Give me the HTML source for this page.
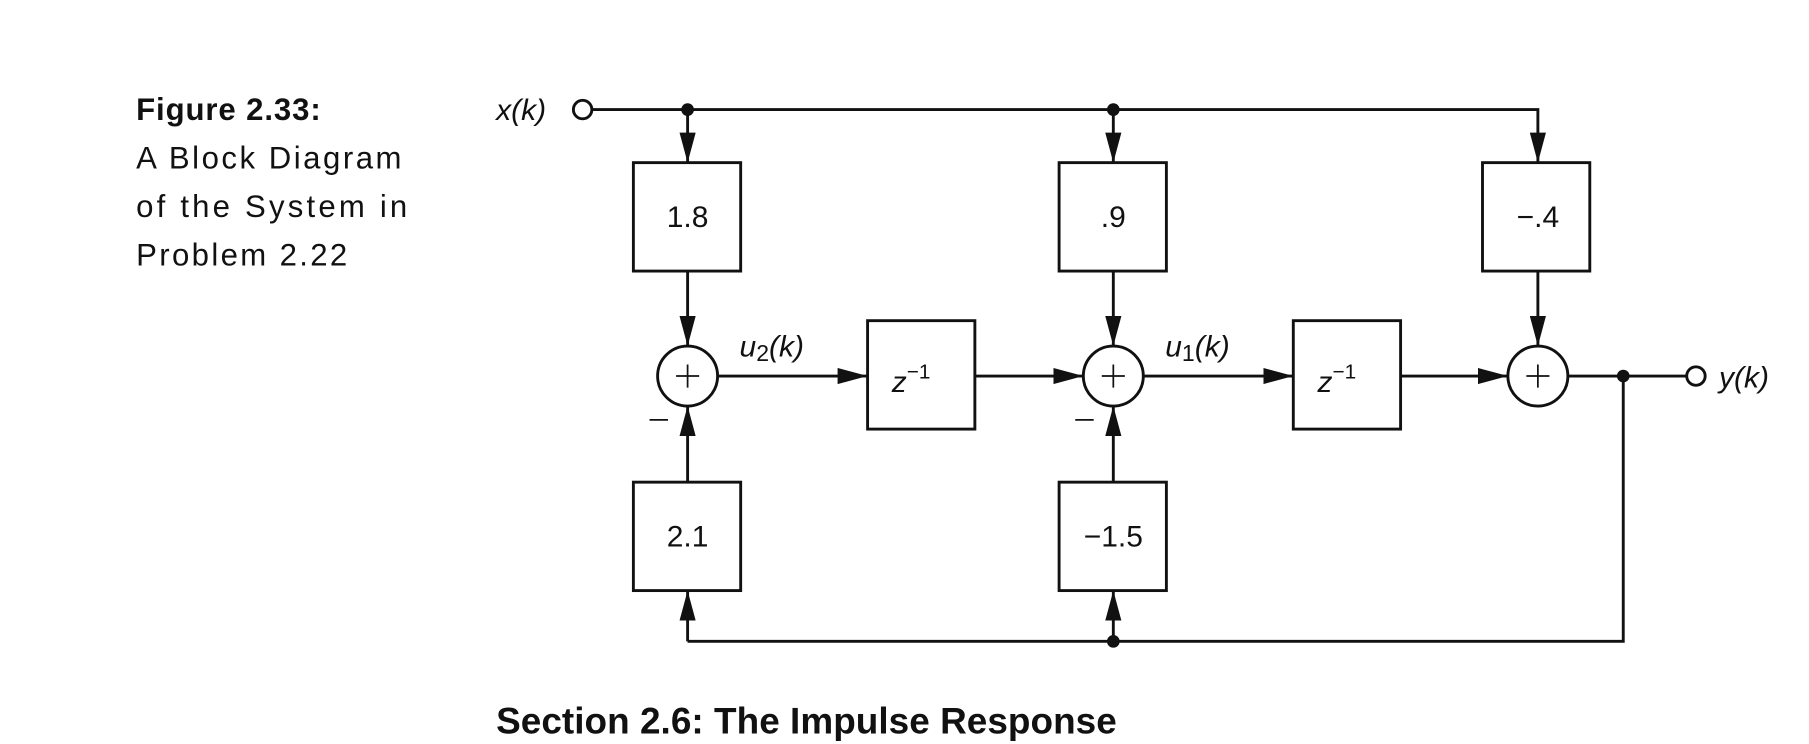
<!DOCTYPE html>
<html><head><style>html,body{margin:0;padding:0;background:#fff;}svg{display:block}</style></head>
<body>
<svg width="1809" height="744" viewBox="0 0 1568 645" preserveAspectRatio="none" xmlns="http://www.w3.org/2000/svg">
<defs>
<marker id="a" markerWidth="26" markerHeight="14" refX="26" refY="7" orient="auto" markerUnits="userSpaceOnUse">
<path d="M0,0 L26,7 L0,14 z" fill="#111"/>
</marker>
</defs>
<g font-family="Liberation Sans, sans-serif" fill="#111">
<text x="118" y="104" font-size="27" font-weight="bold" textLength="160">Figure 2.33:</text>
<text x="118" y="146" font-size="27" textLength="230">A Block Diagram</text>
<text x="118" y="188" font-size="27" textLength="235">of the System in</text>
<text x="118" y="230" font-size="27" textLength="183">Problem 2.22</text>
<text x="430" y="636" font-size="32" font-weight="bold" textLength="538">Section 2.6: The Impulse Response</text>
</g>
<g stroke="#111" stroke-width="2.5" fill="none">
<!-- top line -->
<circle cx="505" cy="95" r="8" fill="#fff"/>
<polyline points="513,95 1333,95 1333,141" marker-end="url(#a)"/>
<line x1="596" y1="95" x2="596" y2="141" marker-end="url(#a)"/>
<line x1="965" y1="95" x2="965" y2="141" marker-end="url(#a)"/>
<!-- boxes -->
<rect x="549" y="141" width="93" height="94"/>
<rect x="918" y="141" width="93" height="94"/>
<rect x="1285" y="141" width="93" height="94"/>
<rect x="752" y="278" width="93" height="94"/>
<rect x="1121" y="278" width="93" height="94"/>
<rect x="549" y="418" width="93" height="94"/>
<rect x="918" y="418" width="93" height="94"/>
<!-- summers -->
<circle cx="596" cy="326" r="26"/>
<circle cx="965" cy="326" r="26"/>
<circle cx="1333" cy="326" r="26"/>
<!-- down arrows to summers -->
<line x1="596" y1="235" x2="596" y2="300" marker-end="url(#a)"/>
<line x1="965" y1="235" x2="965" y2="300" marker-end="url(#a)"/>
<line x1="1333" y1="235" x2="1333" y2="300" marker-end="url(#a)"/>
<!-- horizontal -->
<line x1="622" y1="326" x2="752" y2="326" marker-end="url(#a)"/>
<line x1="845" y1="326" x2="939" y2="326" marker-end="url(#a)"/>
<line x1="991" y1="326" x2="1121" y2="326" marker-end="url(#a)"/>
<line x1="1214" y1="326" x2="1307" y2="326" marker-end="url(#a)"/>
<line x1="1359" y1="326" x2="1462" y2="326"/>
<circle cx="1470" cy="326" r="8" fill="#fff"/>
<!-- up from feedback boxes -->
<line x1="596" y1="418" x2="596" y2="352" marker-end="url(#a)"/>
<line x1="965" y1="418" x2="965" y2="352" marker-end="url(#a)"/>
<!-- bottom feedback -->
<polyline points="1407,326 1407,556 596,556"/>
<line x1="596" y1="556" x2="596" y2="512" marker-end="url(#a)"/>
<line x1="965" y1="556" x2="965" y2="512" marker-end="url(#a)"/>
<!-- plus signs -->
<path d="M586,326h20M596,316v20M955,326h20M965,316v20M1323,326h20M1333,316v20" stroke-width="1.5"/>
<path d="M563,364h16M932,364h16" stroke-width="1.5"/>
</g>
<g fill="#111">
<circle cx="596" cy="95" r="5.5"/>
<circle cx="965" cy="95" r="5.5"/>
<circle cx="1407" cy="326" r="5.5"/>
<circle cx="965" cy="556" r="5.5"/>
</g>
<g font-family="Liberation Sans, sans-serif" fill="#111" font-size="26">
<text x="430" y="104" font-style="italic">x(<tspan>k</tspan>)</text>
<text x="1490" y="336" font-style="italic">y(k)</text>
<text x="596" y="197" text-anchor="middle">1.8</text>
<text x="965" y="197" text-anchor="middle">.9</text>
<text x="1333" y="197" text-anchor="middle">−.4</text>
<text x="596" y="474" text-anchor="middle">2.1</text>
<text x="965" y="474" text-anchor="middle">−1.5</text>
<text x="773" y="340" font-style="italic">z<tspan font-style="normal" font-size="18" dy="-12">−1</tspan></text>
<text x="1142" y="340" font-style="italic">z<tspan font-style="normal" font-size="18" dy="-12">−1</tspan></text>
<text x="641" y="309" font-style="italic">u<tspan font-style="normal" font-size="20" dy="4">2</tspan><tspan dy="-4">(k)</tspan></text>
<text x="1010" y="309" font-style="italic">u<tspan font-style="normal" font-size="20" dy="4">1</tspan><tspan dy="-4">(k)</tspan></text>
</g>
</svg>
</body></html>
